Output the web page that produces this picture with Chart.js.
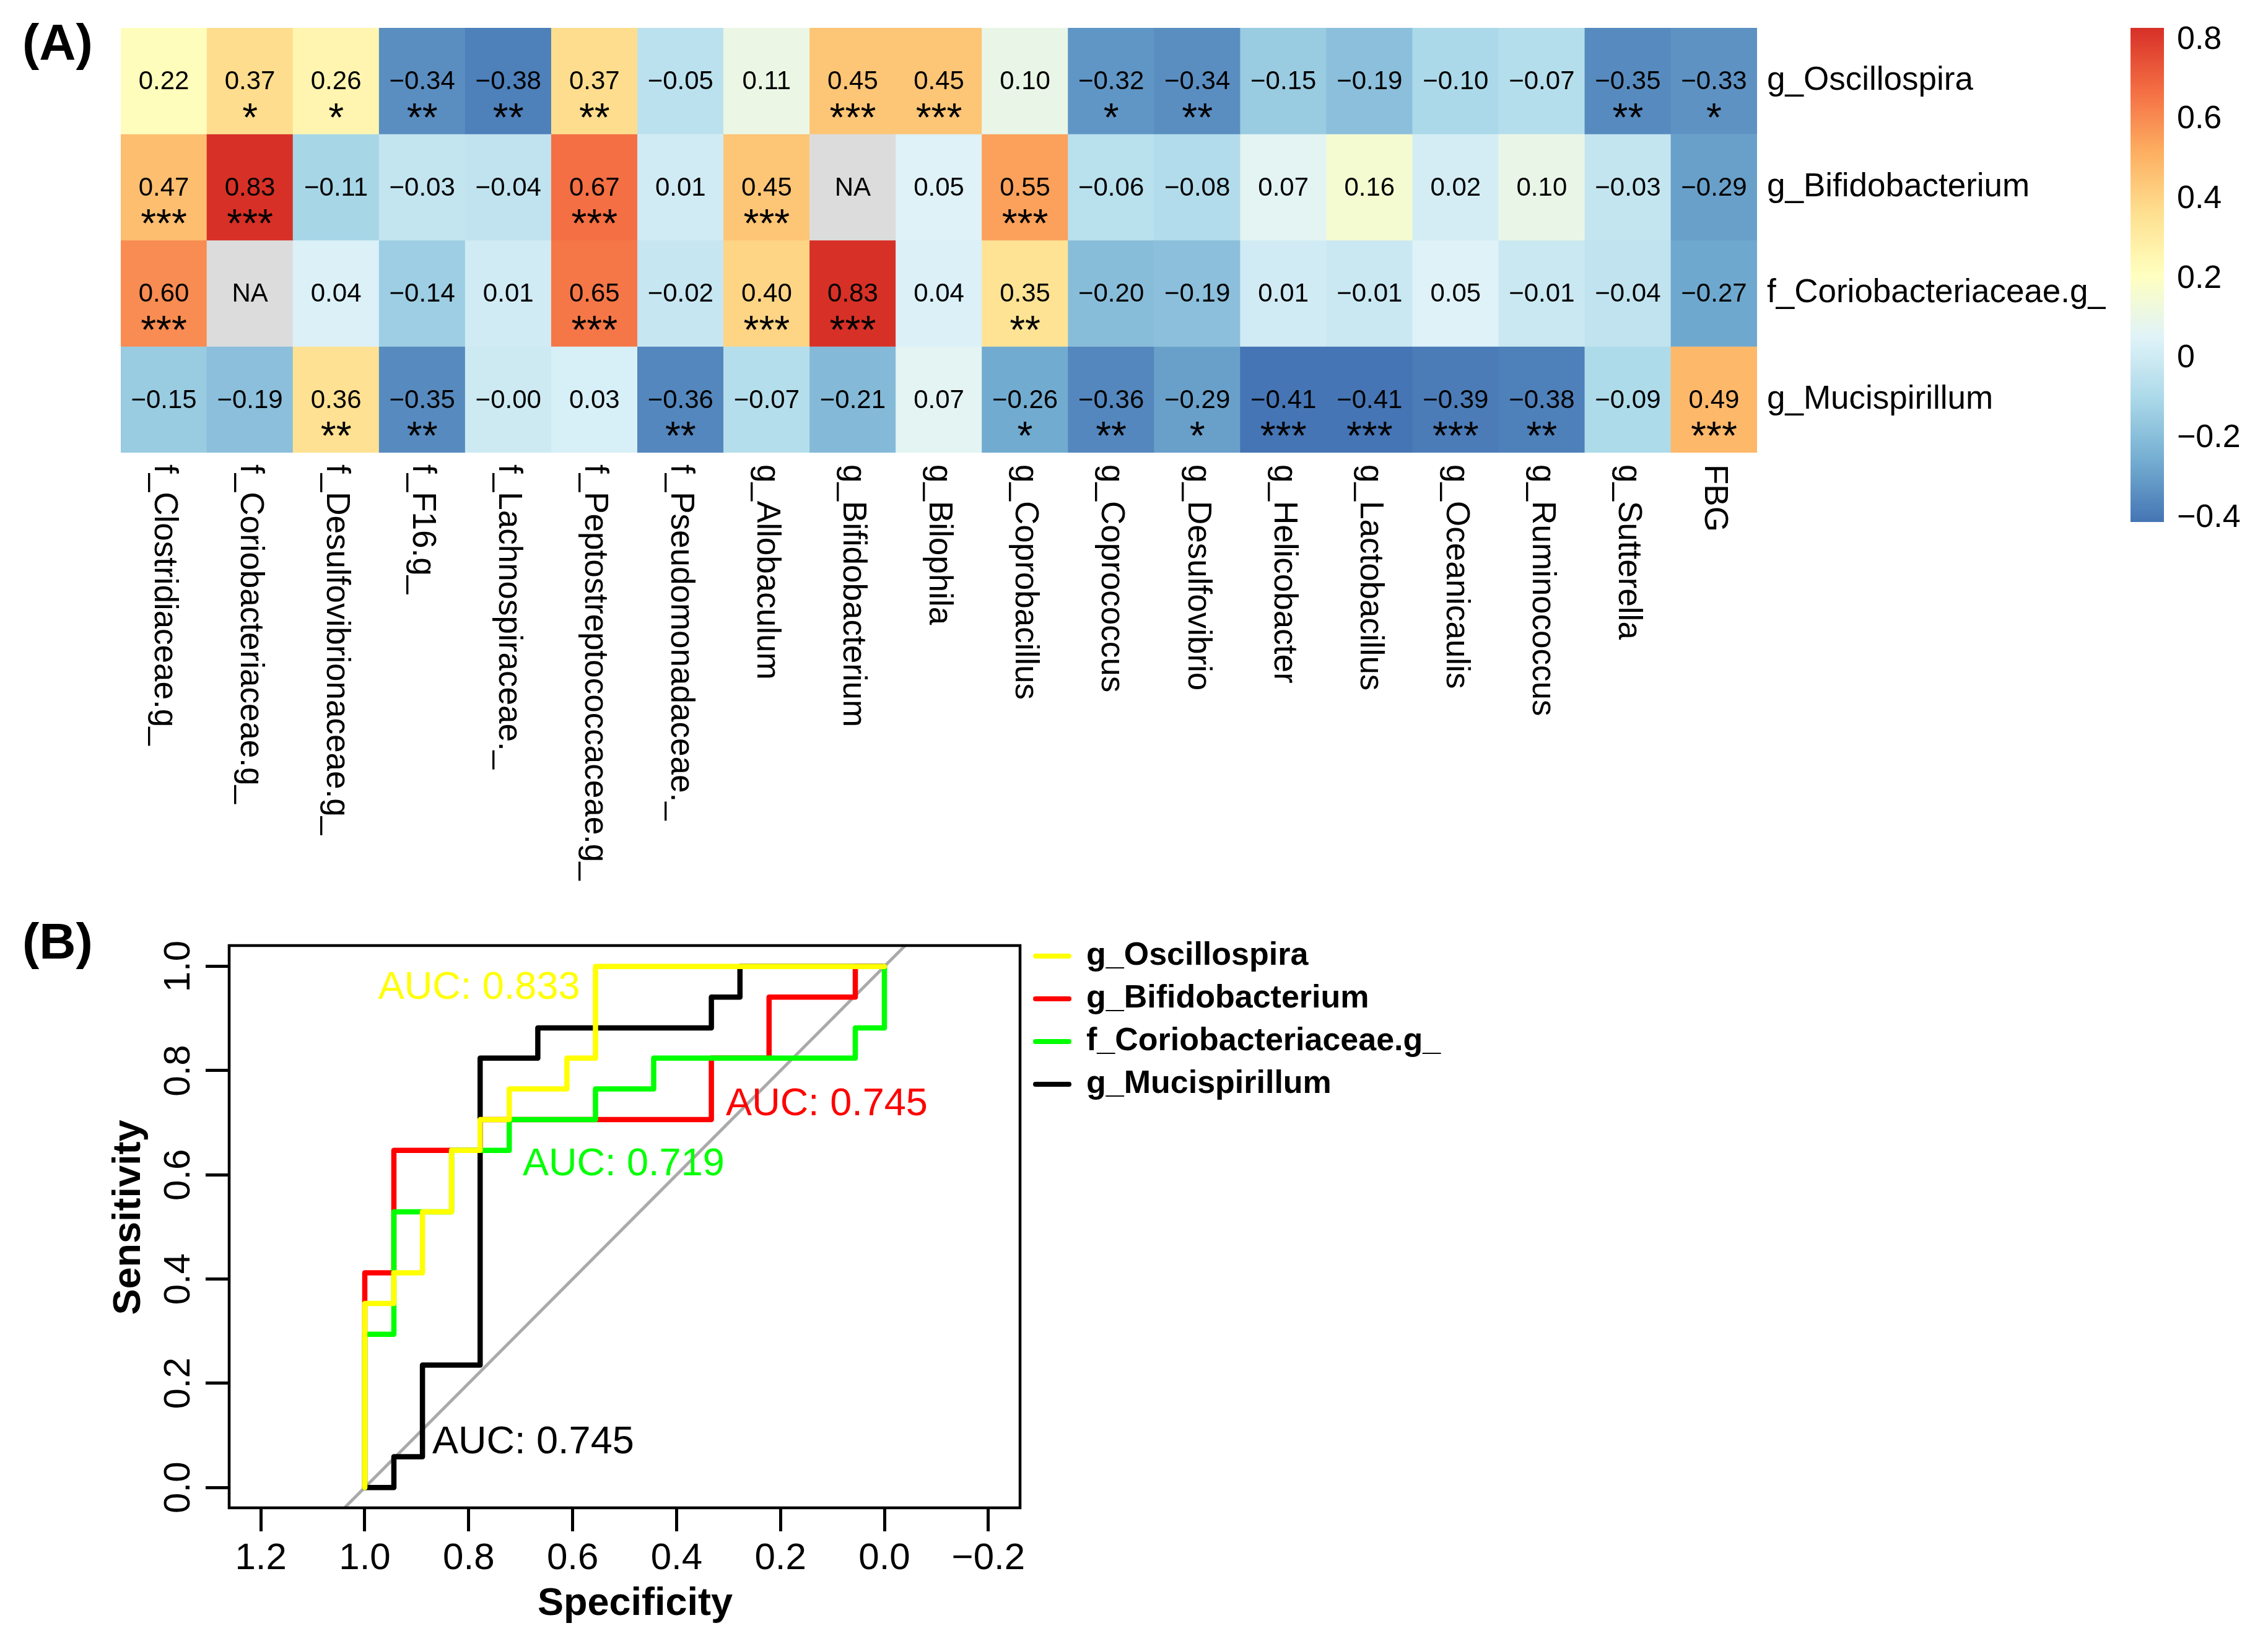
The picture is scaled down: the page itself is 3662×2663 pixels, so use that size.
<!DOCTYPE html>
<html>
<head>
<meta charset="utf-8">
<title>Correlation heatmap and ROC curves</title>
<script src="https://cdn.jsdelivr.net/npm/chart.js@4.4.1/dist/chart.umd.min.js"></script>
<style>
    html, body { margin: 0; padding: 0; background: #fff; }
    #page { position: relative; width: 3662px; height: 2663px; background: #fff; overflow: hidden; }
    canvas { position: absolute; }
    #heatCanvas { left: 0; top: 0; }
    #barCanvas { left: 3400px; top: 0; }
    #rocCanvas { left: 0; top: 1440px; }
</style>
</head>
<body>
<div id="page">
    <canvas id="heatCanvas" width="3400" height="1440"></canvas>
    <canvas id="barCanvas" width="262" height="900"></canvas>
    <canvas id="rocCanvas" width="2500" height="1223"></canvas>
</div>
<script>
// ---- (A) heatmap data ----
const taxa = ['f_Clostridiaceae.g_', 'f_Coriobacteriaceae.g_', 'f_Desulfovibrionaceae.g_', 'f_F16.g_',
    'f_Lachnospiraceae._', 'f_Peptostreptococcaceae.g_', 'f_Pseudomonadaceae._', 'g_Allobaculum',
    'g_Bifidobacterium', 'g_Bilophila', 'g_Coprobacillus', 'g_Coprococcus', 'g_Desulfovibrio',
    'g_Helicobacter', 'g_Lactobacillus', 'g_Oceanicaulis', 'g_Ruminococcus', 'g_Sutterella', 'FBG'];
const markers = ['g_Oscillospira', 'g_Bifidobacterium', 'f_Coriobacteriaceae.g_', 'g_Mucispirillum'];

const rOscillospira = [0.22, 0.37, 0.26, -0.34, -0.38, 0.37, -0.05, 0.11, 0.45, 0.45, 0.10, -0.32, -0.34, -0.15, -0.19, -0.10, -0.07, -0.35, -0.33];
const rBifidobacterium = [0.47, 0.83, -0.11, -0.03, -0.04, 0.67, 0.01, 0.45, null, 0.05, 0.55, -0.06, -0.08, 0.07, 0.16, 0.02, 0.10, -0.03, -0.29];
const rCoriobacteriaceae = [0.60, null, 0.04, -0.14, 0.01, 0.65, -0.02, 0.40, 0.83, 0.04, 0.35, -0.20, -0.19, 0.01, -0.01, 0.05, -0.01, -0.04, -0.27];
const rMucispirillum = [-0.15, -0.19, 0.36, -0.35, -0.00, 0.03, -0.36, -0.07, -0.21, 0.07, -0.26, -0.36, -0.29, -0.41, -0.41, -0.39, -0.38, -0.09, 0.49];

const sigOscillospira = ['', '*', '*', '**', '**', '**', '', '', '***', '***', '', '*', '**', '', '', '', '', '**', '*'];
const sigBifidobacterium = ['***', '***', '', '', '', '***', '', '***', '', '', '***', '', '', '', '', '', '', '', ''];
const sigCoriobacteriaceae = ['***', '', '', '', '', '***', '', '***', '***', '', '**', '', '', '', '', '', '', '', ''];
const sigMucispirillum = ['', '', '**', '**', '', '', '**', '', '', '', '*', '**', '*', '***', '***', '***', '**', '', '***'];

const colorbarTicks = [0.8, 0.6, 0.4, 0.2, 0, -0.2, -0.4];

// ---- (B) ROC data (specificity / sensitivity of each curve corner) ----
const specOscillospira = [1, 0.944, 0.889, 0.833, 0.778, 0.722, 0.611, 0.556, 0];
const sensOscillospira = [0, 0.353, 0.412, 0.529, 0.647, 0.706, 0.765, 0.824, 1];
const specBifidobacterium = [1, 0.944, 0.778, 0.333, 0.222, 0.056, 0];
const sensBifidobacterium = [0, 0.412, 0.647, 0.706, 0.824, 0.941, 1];
const specCoriobacteriaceae = [1, 0.944, 0.833, 0.722, 0.556, 0.444, 0.056, 0, 0];
const sensCoriobacteriaceae = [0, 0.294, 0.529, 0.647, 0.706, 0.765, 0.824, 0.882, 1];
const specMucispirillum = [1, 0.944, 0.889, 0.778, 0.667, 0.333, 0.278, 0];
const sensMucispirillum = [0, 0, 0.059, 0.235, 0.824, 0.882, 0.941, 1];

const aucValues = ['0.833', '0.745', '0.719', '0.745'];
const specTicks = [1.2, 1.0, 0.8, 0.6, 0.4, 0.2, 0.0, -0.2];
const sensTicks = [0.0, 0.2, 0.4, 0.6, 0.8, 1.0];

// ---- shared helpers ----
const FONT = '"Liberation Sans", Arial, Helvetica, sans-serif';
Chart.defaults.font.family = FONT;
Chart.defaults.color = '#000';

const palette = ['#4575B4', '#74ADD1', '#ABD9E9', '#E0F3F8', '#FFFFBF', '#FEE090', '#FDAE61', '#F46D43', '#D73027'];
const naColor = '#DCDCDC';
const heatRows = [rOscillospira, rBifidobacterium, rCoriobacteriaceae, rMucispirillum];
const heatSig = [sigOscillospira, sigBifidobacterium, sigCoriobacteriaceae, sigMucispirillum];
const allValues = heatRows.flat().filter(v => v !== null);
const colorMin = Math.min(...allValues);
const colorMax = Math.max(...allValues);

function hexToRgb(h) {
    return [parseInt(h.slice(1, 3), 16), parseInt(h.slice(3, 5), 16), parseInt(h.slice(5, 7), 16)];
}

// Màu theo giá trị tương quan (RdYlBu, từ min tới max)
function corrColor(v) {
    let t = (v - colorMin) / (colorMax - colorMin);
    t = Math.max(0, Math.min(1, t)) * (palette.length - 1);
    const i = Math.min(Math.floor(t), palette.length - 2);
    const f = t - i;
    const a = hexToRgb(palette[i]);
    const b = hexToRgb(palette[i + 1]);
    const c = a.map((x, k) => Math.round(x + (b[k] - x) * f));
    return `rgb(${c[0]},${c[1]},${c[2]})`;
}

function fmt(v, digits) {
    const neg = v < 0 || Object.is(v, -0);
    return (neg ? '\u2212' : '') + Math.abs(v).toFixed(digits);
}

// ---- (A) heatmap ----
const heatLabels = {
    id: 'heatLabels',
    afterDatasetsDraw(chart) {
        const { ctx, chartArea } = chart;
        const x = chart.scales.x;
        const y = chart.scales.y;
        ctx.save();
        ctx.fillStyle = '#000';

        heatRows.forEach((vals, ri) => {
            const cy = y.getPixelForValue(ri + 0.5);
            vals.forEach((v, ci) => {
                const cx = x.getPixelForValue(ci);
                ctx.font = `42px ${FONT}`;
                ctx.textAlign = 'center';
                ctx.textBaseline = 'middle';
                ctx.fillText(v === null ? 'NA' : fmt(v, 2), cx, cy + 2);
                const s = heatSig[ri][ci];
                if (s) {
                    ctx.font = `64px ${FONT}`;
                    ctx.textBaseline = 'alphabetic';
                    ctx.fillText(s, cx, cy + 81);
                }
            });
        });

        // tên hàng bên phải
        ctx.font = `53px ${FONT}`;
        ctx.textAlign = 'left';
        ctx.textBaseline = 'middle';
        markers.forEach((m, ri) => {
            ctx.fillText(m, chartArea.right + 16, y.getPixelForValue(ri + 0.5));
        });

        // tên cột xoay 90 độ
        taxa.forEach((t, ci) => {
            ctx.save();
            ctx.translate(x.getPixelForValue(ci), chartArea.bottom + 19);
            ctx.rotate(Math.PI / 2);
            ctx.textAlign = 'left';
            ctx.textBaseline = 'middle';
            ctx.fillText(t, 0, 0);
            ctx.restore();
        });

        ctx.font = `bold 82px ${FONT}`;
        ctx.textAlign = 'left';
        ctx.textBaseline = 'alphabetic';
        ctx.fillText('(A)', 36, 96);
        ctx.restore();
    }
};

function drawHeatmap() {
    const canvas = document.getElementById('heatCanvas');
    const datasets = heatRows.map((vals, ri) => ({
        label: markers[ri],
        data: vals.map(() => [ri, ri + 1]),
        backgroundColor: vals.map(v => v === null ? naColor : corrColor(v)),
        borderWidth: 0,
        categoryPercentage: 1,
        barPercentage: 1,
        grouped: false
    }));

    new Chart(canvas.getContext('2d'), {
        type: 'bar',
        data: { labels: taxa, datasets: datasets },
        options: {
            responsive: false,
            animation: false,
            devicePixelRatio: 1,
            layout: { padding: { left: 195, top: 45, right: canvas.width - 2837, bottom: canvas.height - 731 } },
            scales: {
                x: { display: false },
                y: { display: false, min: 0, max: heatRows.length, reverse: true }
            },
            plugins: { legend: { display: false }, tooltip: { enabled: false } }
        },
        plugins: [heatLabels]
    });
}

// ---- colour key ----
const barLabels = {
    id: 'barLabels',
    afterDraw(chart) {
        const { ctx, chartArea } = chart;
        const y = chart.scales.y;
        ctx.save();
        ctx.fillStyle = '#000';
        ctx.font = `52px ${FONT}`;
        ctx.textAlign = 'left';
        ctx.textBaseline = 'middle';
        colorbarTicks.forEach(v => {
            ctx.fillText(v === 0 ? '0' : fmt(v, 1), chartArea.right + 21, y.getPixelForValue(v));
        });
        ctx.restore();
    }
};

function drawColorbar() {
    const canvas = document.getElementById('barCanvas');
    new Chart(canvas.getContext('2d'), {
        type: 'bar',
        data: {
            labels: [''],
            datasets: [{
                data: [[colorMin, colorMax]],
                backgroundColor: function(context) {
                    const { ctx, chartArea } = context.chart;
                    if (!chartArea) return null;
                    const g = ctx.createLinearGradient(0, chartArea.bottom, 0, chartArea.top);
                    for (let k = 0; k <= 40; k++) {
                        g.addColorStop(k / 40, corrColor(colorMin + (colorMax - colorMin) * k / 40));
                    }
                    return g;
                },
                borderWidth: 0,
                categoryPercentage: 1,
                barPercentage: 1
            }]
        },
        options: {
            responsive: false,
            animation: false,
            devicePixelRatio: 1,
            layout: { padding: { left: 40, top: 45, right: canvas.width - 94, bottom: canvas.height - 843 } },
            scales: {
                x: { display: false },
                y: { display: false, min: colorMin, max: colorMax }
            },
            plugins: { legend: { display: false }, tooltip: { enabled: false } }
        },
        plugins: [barLabels]
    });
}

// ---- (B) ROC curves ----
const rocSeries = [
    { label: markers[0], spec: specOscillospira, sens: sensOscillospira, color: '#FFFF00', auc: aucValues[0], at: [0.974, 0.958], order: 0 },
    { label: markers[1], spec: specBifidobacterium, sens: sensBifidobacterium, color: '#FF0000', auc: aucValues[1], at: [0.305, 0.735], order: 3 },
    { label: markers[2], spec: specCoriobacteriaceae, sens: sensCoriobacteriaceae, color: '#00FF00', auc: aucValues[2], at: [0.696, 0.62], order: 1 },
    { label: markers[3], spec: specMucispirillum, sens: sensMucispirillum, color: '#000000', auc: aucValues[3], at: [0.87, 0.086], order: 2 }
];

const rocDecor = {
    id: 'rocDecor',
    afterDraw(chart) {
        const { ctx, chartArea } = chart;
        const x = chart.scales.x;
        const y = chart.scales.y;
        ctx.save();

        // khung
        ctx.strokeStyle = '#000';
        ctx.lineWidth = 4.5;
        ctx.strokeRect(chartArea.left, chartArea.top, chartArea.right - chartArea.left, chartArea.bottom - chartArea.top);

        // nhãn trục tung (xoay)
        ctx.fillStyle = '#000';
        ctx.font = `60px ${FONT}`;
        ctx.textAlign = 'center';
        ctx.textBaseline = 'middle';
        sensTicks.forEach(v => {
            ctx.save();
            ctx.translate(289, y.getPixelForValue(v));
            ctx.rotate(-Math.PI / 2);
            ctx.fillText(fmt(v, 1), 0, 0);
            ctx.restore();
        });

        // tiêu đề trục
        ctx.font = `bold 63px ${FONT}`;
        ctx.fillText('Specificity', (chartArea.left + chartArea.right) / 2 + 17, 1151);
        ctx.save();
        ctx.translate(209, (chartArea.top + chartArea.bottom) / 2 - 15);
        ctx.rotate(-Math.PI / 2);
        ctx.fillText('Sensitivity', 0, 0);
        ctx.restore();

        // AUC
        ctx.font = `63px ${FONT}`;
        ctx.textAlign = 'left';
        rocSeries.forEach(s => {
            ctx.fillStyle = s.color;
            ctx.fillText('AUC: ' + s.auc, x.getPixelForValue(s.at[0]), y.getPixelForValue(s.at[1]));
        });

        // chú thích
        ctx.font = `bold 52px ${FONT}`;
        ctx.lineCap = 'round';
        ctx.lineWidth = 8;
        rocSeries.forEach((s, i) => {
            const ly = 104 + 69 * i;
            ctx.strokeStyle = s.color;
            ctx.beginPath();
            ctx.moveTo(chartArea.right + 25, ly);
            ctx.lineTo(chartArea.right + 79, ly);
            ctx.stroke();
            ctx.fillStyle = '#000';
            ctx.fillText(s.label, chartArea.right + 107, ly);
        });

        ctx.font = `bold 82px ${FONT}`;
        ctx.textBaseline = 'alphabetic';
        ctx.fillText('(B)', 36, 108);
        ctx.restore();
    }
};

function drawRoc() {
    const canvas = document.getElementById('rocCanvas');
    const xMin = -0.261, xMax = 1.261;
    const datasets = rocSeries.map(s => ({
        label: s.label,
        data: s.spec.map((v, i) => ({ x: v, y: s.sens[i] })),
        showLine: true,
        stepped: 'after',
        borderColor: s.color,
        borderWidth: 8.5,
        borderCapStyle: 'round',
        borderJoinStyle: 'round',
        pointRadius: 0,
        fill: false,
        order: s.order
    }));
    // đường chéo tham chiếu
    datasets.push({
        label: 'diagonal',
        data: [{ x: xMax, y: 1 - xMax }, { x: xMin, y: 1 - xMin }],
        showLine: true,
        borderColor: '#AAAAAA',
        borderWidth: 5,
        pointRadius: 0,
        clip: 0,
        order: 9
    });

    new Chart(canvas.getContext('2d'), {
        type: 'scatter',
        data: { datasets: datasets },
        options: {
            responsive: false,
            animation: false,
            devicePixelRatio: 1,
            layout: { padding: { left: 0, top: 87, right: canvas.width - 1647, bottom: 0 } },
            scales: {
                x: {
                    type: 'linear',
                    min: xMin,
                    max: xMax,
                    reverse: true,
                    afterBuildTicks: scale => { scale.ticks = specTicks.map(v => ({ value: v })); },
                    afterFit: scale => { scale.height = canvas.height - 995; },
                    ticks: { font: { size: 60 }, color: '#000', padding: 8, maxRotation: 0, callback: v => fmt(v, 1) },
                    grid: { drawOnChartArea: false, drawTicks: true, tickLength: 38, color: '#000', lineWidth: 5 },
                    border: { display: false }
                },
                y: {
                    type: 'linear',
                    min: -0.039,
                    max: 1.04,
                    afterBuildTicks: scale => { scale.ticks = sensTicks.map(v => ({ value: v })); },
                    afterFit: scale => { scale.width = 370; },
                    ticks: { display: false },
                    grid: { drawOnChartArea: false, drawTicks: true, tickLength: 38, color: '#000', lineWidth: 5 },
                    border: { display: false }
                }
            },
            plugins: { legend: { display: false }, tooltip: { enabled: false } }
        },
        plugins: [rocDecor]
    });
}

window.addEventListener('load', function() {
    drawHeatmap();
    drawColorbar();
    drawRoc();
});
</script>
</body>
</html>
